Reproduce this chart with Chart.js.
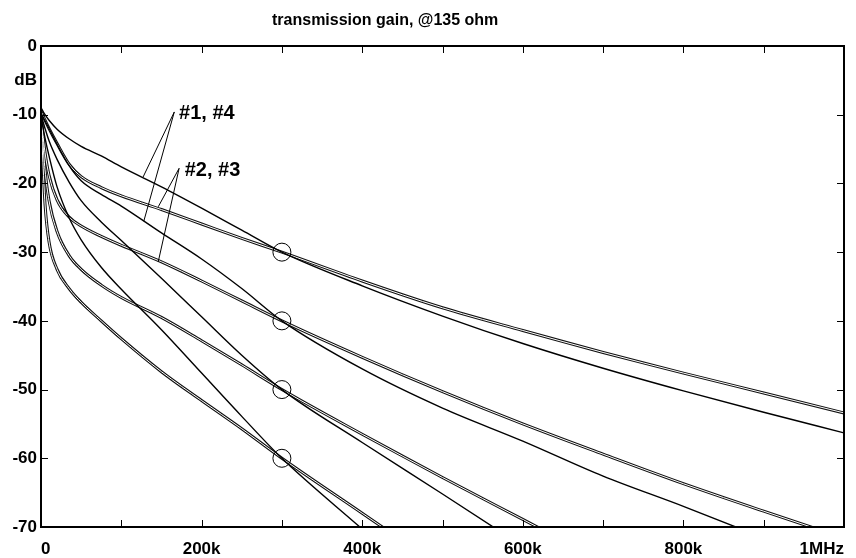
<!DOCTYPE html>
<html>
<head>
<meta charset="utf-8">
<title>transmission gain, @135 ohm</title>
<script src="https://cdn.jsdelivr.net/npm/chart.js@4"></script>
<style>
  html, body { margin: 0; padding: 0; background: #fff; }
  #wrap { width: 856px; height: 558px; }
</style>
</head>
<body>
<div id="wrap"><canvas id="gain" width="856" height="558"></canvas></div>
<script>
// frequency knots in kHz (x axis runs 0 .. 1MHz)
const freqKHz = [0, 2, 5, 10, 20, 35, 50, 75, 100, 150, 200, 250, 300, 400, 500, 600, 700, 800, 900, 1000];

// gain in dB, one array per trace
// #1/#4 traces (single line)
const gainB = [-9.0, -9.4, -10.0, -10.8, -12.1, -13.5, -14.6, -16.0, -17.6, -20.5, -23.6, -26.8, -30.0, -34.9, -39.3, -43.3, -46.9, -50.2, -53.3, -56.3];
const gainD = [-9.8, -10.2, -10.9, -12.0, -14.3, -17.4, -19.6, -21.6, -23.3, -27.2, -31.0, -35.3, -40.0, -47.0, -52.7, -57.5, -62.6, -67.0, -71.6];
const gainF = [-10.0, -10.8, -12.0, -13.8, -16.5, -19.8, -22.5, -25.6, -28.3, -33.8, -39.4, -45.0, -50.0, -57.7, -65.2, -72.8];
const gainG = [-10.5, -11.6, -13.4, -16.0, -20.5, -25.0, -28.2, -32.2, -35.4, -41.3, -47.6, -53.9, -60.0, -70.3];
// #2/#3 traces (double line)
const gainA = [-9.5, -10.0, -10.8, -12.0, -14.2, -17.2, -19.0, -20.6, -21.8, -23.8, -25.9, -28.0, -30.0, -34.2, -38.1, -41.4, -44.6, -47.6, -50.5, -53.4];
const gainC = [-10.2, -12.5, -15.5, -18.8, -22.4, -24.9, -26.2, -27.7, -29.0, -31.4, -34.2, -37.1, -40.0, -45.3, -50.3, -55.0, -59.4, -63.7, -67.7, -71.6];
const gainE = [-10.5, -13.5, -18.0, -22.5, -27.0, -30.5, -32.5, -34.8, -36.6, -39.5, -42.9, -46.4, -50.0, -56.5, -62.8, -68.9, -75.0];
const gainH = [-11.0, -16.0, -23.0, -28.5, -32.5, -35.3, -37.3, -40.0, -42.6, -47.4, -51.6, -55.7, -60.0, -68.0, -76.0];

// crossing markers at 300k
const markFreq = [300, 300, 300, 300];
const markGain = [-30, -40, -50, -60];

// callouts
const noteText = ["#1, #4", "#2, #3"];
const noteFreq = [172, 179];
const noteGain = [-10.6, -18.9];
const apexFreq = [166, 172];
const apexGain = [-9.6, -17.8];
const leaderFreq = [[127, 128], [146, 146]];
const leaderGain = [[-19.1, -25.5], [-23.4, -31.4]];

const FONT = "'Liberation Sans', Arial, sans-serif";

function pts(values) {
  return values.map((v, i) => ({ x: freqKHz[i], y: v }));
}

function singleTrace(values) {
  return {
    type: "line",
    data: pts(values),
    borderColor: "#000",
    borderWidth: 1.4,
    pointRadius: 0,
    cubicInterpolationMode: "monotone",
    order: 1
  };
}

// double trace: dark wide stroke with a thin white core on top
function doubleTrace(values) {
  return [
    {
      type: "line",
      data: pts(values),
      borderColor: "#111",
      borderWidth: 3,
      pointRadius: 0,
      cubicInterpolationMode: "monotone",
      order: 3
    },
    {
      type: "line",
      data: pts(values),
      borderColor: "#fff",
      borderWidth: 1,
      pointRadius: 0,
      cubicInterpolationMode: "monotone",
      order: 2
    }
  ];
}

const datasets = [
  ...doubleTrace(gainA),
  ...doubleTrace(gainC),
  ...doubleTrace(gainE),
  ...doubleTrace(gainH),
  singleTrace(gainB),
  singleTrace(gainD),
  singleTrace(gainF),
  singleTrace(gainG),
  {
    type: "scatter",
    data: markFreq.map((f, i) => ({ x: f, y: markGain[i] })),
    pointRadius: 9,
    pointStyle: "circle",
    borderColor: "#000",
    borderWidth: 1,
    backgroundColor: "rgba(0,0,0,0)",
    order: 0
  }
];

// frame with inward ticks, title and callouts
const framePlugin = {
  id: "frame",
  afterDatasetsDraw(chart) {
    const ctx = chart.ctx;
    const a = chart.chartArea;
    const xs = chart.scales.x;
    const ys = chart.scales.y;
    ctx.save();
    ctx.strokeStyle = "#000";

    ctx.lineWidth = 1;
    for (let f = 100; f < 1000; f += 100) {
      const px = Math.round(xs.getPixelForValue(f)) + 0.5;
      ctx.beginPath();
      ctx.moveTo(px, a.bottom); ctx.lineTo(px, a.bottom - 7);
      ctx.moveTo(px, a.top); ctx.lineTo(px, a.top + 7);
      ctx.stroke();
    }
    for (let g = -60; g < 0; g += 10) {
      const py = Math.round(ys.getPixelForValue(g)) + 0.5;
      ctx.beginPath();
      ctx.moveTo(a.left, py); ctx.lineTo(a.left + 7, py);
      ctx.moveTo(a.right, py); ctx.lineTo(a.right - 7, py);
      ctx.stroke();
    }

    ctx.lineWidth = 2;
    ctx.strokeRect(a.left, a.top, a.right - a.left, a.bottom - a.top);

    // callout leaders
    ctx.lineWidth = 1;
    noteText.forEach((t, i) => {
      const ax = xs.getPixelForValue(apexFreq[i]);
      const ay = ys.getPixelForValue(apexGain[i]);
      leaderFreq[i].forEach((f, j) => {
        ctx.beginPath();
        ctx.moveTo(ax, ay);
        ctx.lineTo(xs.getPixelForValue(f), ys.getPixelForValue(leaderGain[i][j]));
        ctx.stroke();
      });
      ctx.fillStyle = "#000";
      ctx.font = "bold 20px " + FONT;
      ctx.textAlign = "left";
      ctx.textBaseline = "alphabetic";
      ctx.fillText(t, xs.getPixelForValue(noteFreq[i]), ys.getPixelForValue(noteGain[i]));
    });

    // title
    ctx.font = "bold 16px " + FONT;
    ctx.textAlign = "left";
    ctx.fillText("transmission gain, @135 ohm", 272, 25);
    ctx.restore();
  }
};

const tickFont = { family: FONT, size: 17, weight: "bold" };

new Chart(document.getElementById("gain"), {
  data: { datasets: datasets },
  options: {
    responsive: false,
    animation: false,
    devicePixelRatio: 1,
    layout: { padding: { top: 46, right: 12, bottom: 0, left: 0 } },
    plugins: {
      legend: { display: false },
      tooltip: { enabled: false }
    },
    scales: {
      x: {
        type: "linear",
        min: 0,
        max: 1000,
        grid: { display: false, drawTicks: false },
        border: { display: false },
        afterFit(scale) { scale.height = 31; },
        ticks: {
          stepSize: 100,
          autoSkip: false,
          maxRotation: 0,
          align: "inner",
          padding: 12,
          color: "#000",
          font: tickFont,
          callback(v) {
            if (v === 0) return "0";
            if (v === 1000) return "1MHz";
            return v % 200 === 0 ? v + "k" : "";
          }
        }
      },
      y: {
        type: "linear",
        min: -70,
        max: 0,
        grid: { display: false, drawTicks: false },
        border: { display: false },
        afterFit(scale) { scale.width = 41; },
        ticks: {
          stepSize: 5,
          autoSkip: false,
          padding: 4,
          color: "#000",
          font: tickFont,
          callback(v) {
            if (v === -5) return "dB";
            return v % 10 === 0 ? String(v) : "";
          }
        }
      }
    }
  },
  plugins: [framePlugin]
});
</script>
</body>
</html>
